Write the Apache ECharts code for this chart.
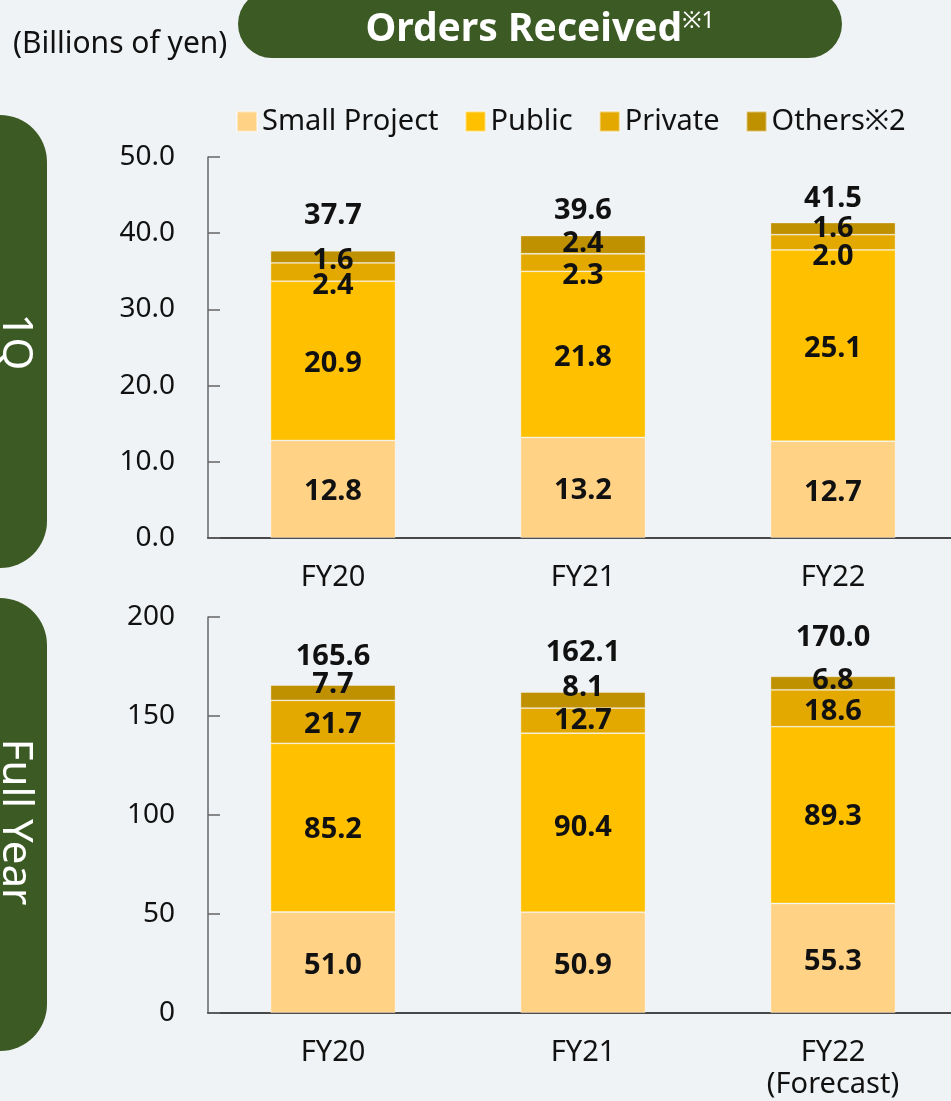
<!DOCTYPE html>
<html lang="en">
<head>
  <meta charset="UTF-8">
  <title>Orders Received</title>
  <script src="https://cdn.jsdelivr.net/npm/echarts@6/dist/echarts.min.js"></script>
  <style>
    html, body { margin: 0; padding: 0; background: #f0f3f5; overflow: hidden; }
    /* a little wider than the window: the x axis runs off the right edge in the original */
    #chart { width: 960px; height: 1101px; }
  </style>
</head>
<body>
  <div id="chart"></div>
<script>
  // data (billions of yen)
  const seriesNames = ['Small Project', 'Public', 'Private', 'Others※2']
  const colors = ['#ffd285', '#ffc000', '#e3a900', '#bf9000']

  const qCategories = ['FY20', 'FY21', 'FY22']
  const qSmall = [12.8, 13.2, 12.7]
  const qPublic = [20.9, 21.8, 25.1]
  const qPrivate = [2.4, 2.3, 2.0]
  const qOthers = [1.6, 2.4, 1.6]
  const qTotal = [37.7, 39.6, 41.5]

  const fyCategories = ['FY20', 'FY21', 'FY22\n(Forecast)']
  const fySmall = [51.0, 50.9, 55.3]
  const fyPublic = [85.2, 90.4, 89.3]
  const fyPrivate = [21.7, 12.7, 18.6]
  const fyOthers = [7.7, 8.1, 6.8]
  const fyTotal = [165.6, 162.1, 170.0]

  // label nudges (px) so numbers sit like the original
  const qShift = [[3, 3, 3], [3, 3, 3], [14, 13, 14], [4, -1, 0]]
  const qTotalGap = [20, 11, 9]
  const fyShift = [[3, 3, 3], [2, 5, 2], [3, 0, 3], [-8, -12, -2]]
  const fyTotalGap = [14, 25, 24]

  const font = '"Noto Sans", sans-serif'
  const chart = echarts.init(document.getElementById('chart'))

  function stackSeries(values, shifts, idx) {
    return values.map((arr, s) => ({
      name: seriesNames[s],
      type: 'bar',
      stack: 'g' + idx,
      xAxisIndex: idx,
      yAxisIndex: idx,
      barWidth: '50%',
      itemStyle: { color: colors[s], borderColor: 'rgba(255,255,255,0.45)', borderWidth: 0.8 },
      label: {
        show: true, position: 'inside', color: '#111', fontWeight: 'bold',
        fontSize: 29, fontFamily: font,
        formatter: p => p.value.toFixed(1)
      },
      data: arr.map((v, i) => ({ value: v, label: { offset: [0, shifts[s][i]] } }))
    }))
  }

  function totalSeries(totals, gaps, idx) {
    return {
      type: 'scatter',
      xAxisIndex: idx,
      yAxisIndex: idx,
      symbolSize: 0,
      silent: true,
      itemStyle: { opacity: 1 },
      label: {
        show: true, position: 'top', color: '#111', fontWeight: 'bold',
        fontSize: 29, fontFamily: font,
        formatter: p => p.value.toFixed(1)
      },
      data: totals.map((v, i) => ({ value: v, label: { distance: gaps[i] } }))
    }
  }

  function xAxis(cats, idx) {
    return {
      type: 'category', gridIndex: idx, data: cats,
      axisLine: { lineStyle: { color: '#111', width: 1.5 } },
      axisTick: { show: false },
      axisLabel: { color: '#111', fontSize: 29, fontFamily: font, margin: 24, lineHeight: 32 }
    }
  }

  function yAxis(idx, max, step, digits) {
    return {
      type: 'value', gridIndex: idx, min: 0, max: max, interval: step,
      splitLine: { show: false },
      axisLine: { show: true, lineStyle: { color: '#666', width: 1.5 } },
      axisTick: { show: true, inside: true, length: 12, lineStyle: { color: '#666', width: 1.5 } },
      axisLabel: { color: '#111', fontSize: 28, fontFamily: font, margin: 33,
        formatter: v => v.toFixed(digits) }
    }
  }

  const option = {
    backgroundColor: '#f0f3f5',
    animation: false,
    legend: {
      data: seriesNames,
      left: 231, top: 102,
      itemWidth: 20, itemHeight: 20, itemGap: 26,
      icon: 'rect',
      textStyle: { color: '#111', fontSize: 29, fontFamily: font }
    },
    grid: [
      { left: 208, width: 750, top: 157, height: 381 },
      { left: 208, width: 750, top: 617, height: 399 }
    ],
    xAxis: [xAxis(qCategories, 0), xAxis(fyCategories, 1)],
    yAxis: [yAxis(0, 50, 10, 1), yAxis(1, 200, 50, 0)],
    series: [
      ...stackSeries([qSmall, qPublic, qPrivate, qOthers], qShift, 0),
      totalSeries(qTotal, qTotalGap, 0),
      ...stackSeries([fySmall, fyPublic, fyPrivate, fyOthers], fyShift, 1),
      totalSeries(fyTotal, fyTotalGap, 1)
    ],
    graphic: [
      { type: 'rect', shape: { x: 238, y: -10, width: 604, height: 68, r: 34 }, style: { fill: '#3c5a24' } },
      {
        type: 'text', x: 540, y: 30,
        style: {
          text: '{a|Orders Received}{b|※1}', align: 'center', verticalAlign: 'middle',
          rich: {
            a: { fill: '#fff', fontSize: 39, fontWeight: 'bold', fontFamily: font },
            b: { fill: '#fff', fontSize: 23, fontFamily: font, padding: [0, 0, 18, 0] }
          }
        }
      },
      { type: 'text', x: 13, y: 44, style: { text: '(Billions of yen)', fill: '#111', fontSize: 30, fontFamily: font, verticalAlign: 'middle' } },
      { type: 'rect', shape: { x: -50, y: 115, width: 97, height: 453, r: 47 }, style: { fill: '#3c5a24' } },
      { type: 'rect', shape: { x: -50, y: 598, width: 97, height: 453, r: 47 }, style: { fill: '#3c5a24' } },
      {
        type: 'text', x: 15, y: 342, rotation: -Math.PI / 2,
        style: { text: '1Q', fill: '#fff', fontSize: 42, fontFamily: font, align: 'center', verticalAlign: 'middle' }
      },
      {
        type: 'text', x: 15, y: 822, rotation: -Math.PI / 2,
        style: { text: 'Full Year', fill: '#fff', fontSize: 42, fontFamily: font, align: 'center', verticalAlign: 'middle' }
      }
    ]
  }

  chart.setOption(option)
</script>
</body>
</html>
